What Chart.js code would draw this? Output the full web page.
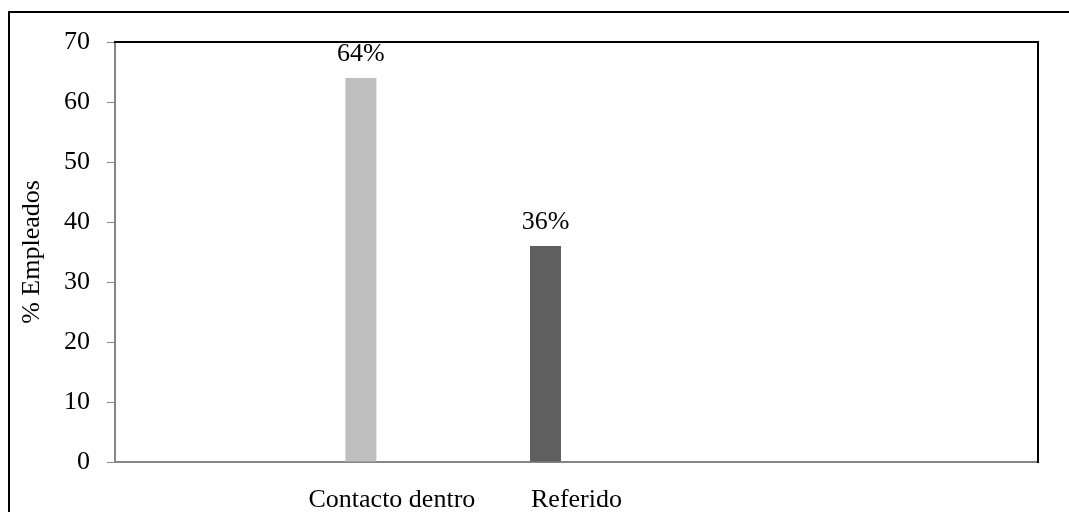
<!doctype html>
<html>

<head>
	<title>Empleados por forma de contacto</title>
	<script src="https://cdn.jsdelivr.net/npm/chart.js@4.4.1"></script>
	<style>
	* { margin: 0; padding: 0; }
	body { background: #fff; width: 1069px; height: 512px; overflow: hidden; position: relative; }
	/* marco exterior del grafico */
	.marco { position: absolute; left: 8px; top: 11px; width: 1200px; height: 700px; border: 2px solid #000; }
	#canvas_bar { position: absolute; left: 0; top: 0; }
	</style>
</head>

<body>
	<div class="marco"></div>
	<canvas id="canvas_bar" width="1069" height="512"></canvas>
</body>

<script type="text/javascript">
	// categorias del eje x (las vacias son filas sin dato)
	var categorias = ['', 'Contacto dentro', 'Referido', '', ''];
	var porcentajes = [null, 64, 36, null, null];
	var colores = ['#BFBFBF', '#BFBFBF', '#5F5F5F', '#BFBFBF', '#BFBFBF'];
	var ticks_y = [0, 10, 20, 30, 40, 50, 60, 70];

	var fuente = 'Liberation Serif, Times New Roman, serif';
	var gris_eje = '#868686';

	// marco negro arriba y a la derecha del area de trazado + etiquetas de valor
	var marcoPlot = {
		id: 'marcoPlot',
		afterDraw: function(chart) {
			var ctx = chart.ctx, a = chart.chartArea;
			ctx.save();
			ctx.strokeStyle = '#000';
			ctx.lineWidth = 2;
			ctx.beginPath();
			ctx.moveTo(a.left - 1, a.top);
			ctx.lineTo(a.right, a.top);
			ctx.lineTo(a.right, a.bottom + 1);
			ctx.stroke();

			ctx.fillStyle = '#000';
			ctx.font = '26px ' + fuente;
			ctx.textAlign = 'center';
			ctx.textBaseline = 'alphabetic';
			var meta = chart.getDatasetMeta(0);
			meta.data.forEach(function(bar, i) {
				var v = porcentajes[i];
				if (v == null) return;
				ctx.fillText(v + '%', bar.x, bar.y - 17);
			});
			ctx.restore();
		}
	};

	var bar_data = {
		labels: categorias,
		datasets: [
			{ label: '% Empleados', data: porcentajes, backgroundColor: colores },
			// series vacias que ocupan su hueco en cada categoria
			{ label: '', data: [] },
			{ label: '', data: [] }
		]
	};

	var bar_config = {
		type: 'bar',
		data: bar_data,
		options: {
			responsive: false,
			animation: false,
			events: [],
			categoryPercentage: 0.504,
			barPercentage: 1,
			layout: {
				padding: { left: 0, top: 42, right: 31, bottom: 0 }
			},
			scales: {
				x: {
					grid: { display: false, drawTicks: false },
					border: { display: true, color: gris_eje, width: 2 },
					ticks: {
						color: '#000',
						padding: 23,
						maxRotation: 0,
						autoSkip: false,
						font: { family: fuente, size: 26 }
					},
					afterFit: function(scale) { scale.height = 50; }
				},
				y: {
					min: 0,
					max: 70,
					afterBuildTicks: function(scale) {
						scale.ticks = ticks_y.map(function(v) { return { value: v }; });
					},
					grid: {
						drawOnChartArea: false,
						tickLength: 8,
						color: gris_eje,
						lineWidth: 1
					},
					border: { display: true, color: gris_eje, width: 2 },
					ticks: {
						color: '#000',
						padding: 17,
						font: { family: fuente, size: 26 }
					},
					title: {
						display: true,
						text: '% Empleados',
						color: '#000',
						padding: { top: 17, bottom: 0 },
						font: { family: fuente, size: 26 }
					},
					afterFit: function(scale) { scale.width = 115; }
				}
			},
			plugins: {
				legend: { display: false },
				tooltip: { enabled: false }
			}
		},
		plugins: [marcoPlot]
	};

	var bar_Chart = new Chart(document.getElementById('canvas_bar'), bar_config);
</script>

</html>
